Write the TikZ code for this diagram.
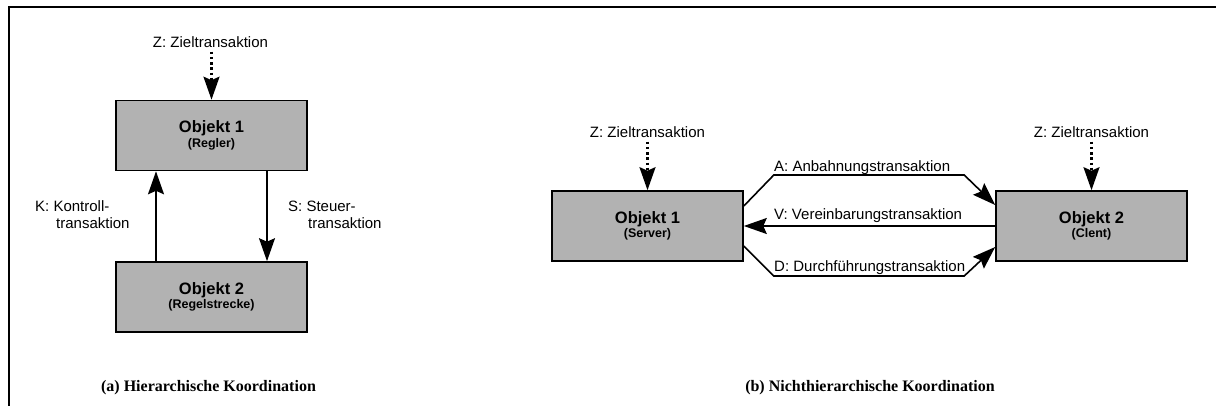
\documentclass[tikz,border=0pt]{standalone}
\usepackage{fontspec}
\setmainfont{Liberation Sans}
\newfontfamily\capfont{Liberation Serif}
\usetikzlibrary{arrows.meta,calc}
\definecolor{boxgray}{RGB}{178,178,178}
\begin{document}
\begin{tikzpicture}[x=1pt,y=-1pt,
  obj/.style={draw=black, line width=1.6pt, fill=boxgray, minimum width=191pt,
    minimum height=70pt, align=center, inner sep=0pt},
  lbl/.style={font=\fontsize{15}{18}\selectfont, inner sep=0pt},
  conn/.style={line width=1.6pt, -{Stealth[length=23pt,width=16pt,inset=3.5pt]}},
  goal/.style={conn, line width=2.2pt, dash pattern=on 2.4pt off 2.8pt},
  caption/.style={font=\capfont\bfseries\fontsize{16}{19}\selectfont, inner sep=0pt}]
\useasboundingbox (0,0) rectangle (1216,406);

% frame
\draw[line width=2.3pt] (9,406) -- (9,6.7) -- (1216,6.7);

\newcommand{\objtext}[2]{{\bfseries\fontsize{16.5}{18}\selectfont #1}\\[1pt]{\bfseries\fontsize{12.5}{14}\selectfont #2}}

% (a) hierarchical coordination
\node[obj] (r1) at (211.5,135.5) {\objtext{Objekt 1}{(Regler)}};
\node[obj] (r2) at (211.5,297) {\objtext{Objekt 2}{(Regelstrecke)}};
\node[lbl] (za) at (210.5,42) {Z: Zieltransaktion};
\draw[goal] ($(r1.north |- za.south)+(0,4)$) -- (r1.north);
\draw[conn] ($(r2.north)+(-55.5,0)$) -- ($(r1.south)+(-55.5,0)$);
\draw[conn] ($(r1.south)+(55.5,0)$) -- ($(r2.north)+(55.5,0)$);
\node[lbl, anchor=base west] (k1) at (35,212) {K: Kontroll-};
\node[lbl, anchor=base west] (k2) at (56,229) {transaktion};
\node[lbl, anchor=base west] (s1) at (288,212) {S: Steuer-};
\node[lbl, anchor=base west] (s2) at (308,229) {transaktion};
\node[caption] (capa) at (208.5,388) {(a) Hierarchische Koordination};

% (b) non-hierarchical coordination
\node[obj] (srv) at (647.5,226) {\objtext{Objekt 1}{(Server)}};
\node[obj] (cli) at (1091.5,226) {\objtext{Objekt 2}{(Clent)}};
\node[lbl] (zs) at (647.5,132) {Z: Zieltransaktion};
\node[lbl] (zc) at (1091.5,132) {Z: Zieltransaktion};
\draw[goal] ($(srv.north |- zs.south)+(0,4)$) -- (srv.north);
\draw[goal] ($(cli.north |- zc.south)+(0,4)$) -- (cli.north);

\draw[conn, line join=miter] ($(srv.east)+(0,-20)$) -- ++(30,-31)
  -- ($(cli.west)+(-31,-51)$) -- ($(cli.west)+(0,-21)$);
\draw[conn] (cli.west) -- (srv.east);
\draw[conn, line join=miter] ($(srv.east)+(0,20)$) -- ++(30,30)
  -- ($(cli.west)+(-31,50)$) -- ($(cli.west)+(0,21)$);
\node[lbl, anchor=base west] (la) at (774,172) {A: Anbahnungstransaktion};
\node[lbl, anchor=base west] (lv) at (774,220) {V: Vereinbarungstransaktion};
\node[lbl, anchor=base west] (ld) at (774,272) {D: Durchführungstransaktion};
\node[caption] (capb) at (870,388) {(b) Nichthierarchische Koordination};
\end{tikzpicture}
\end{document}
